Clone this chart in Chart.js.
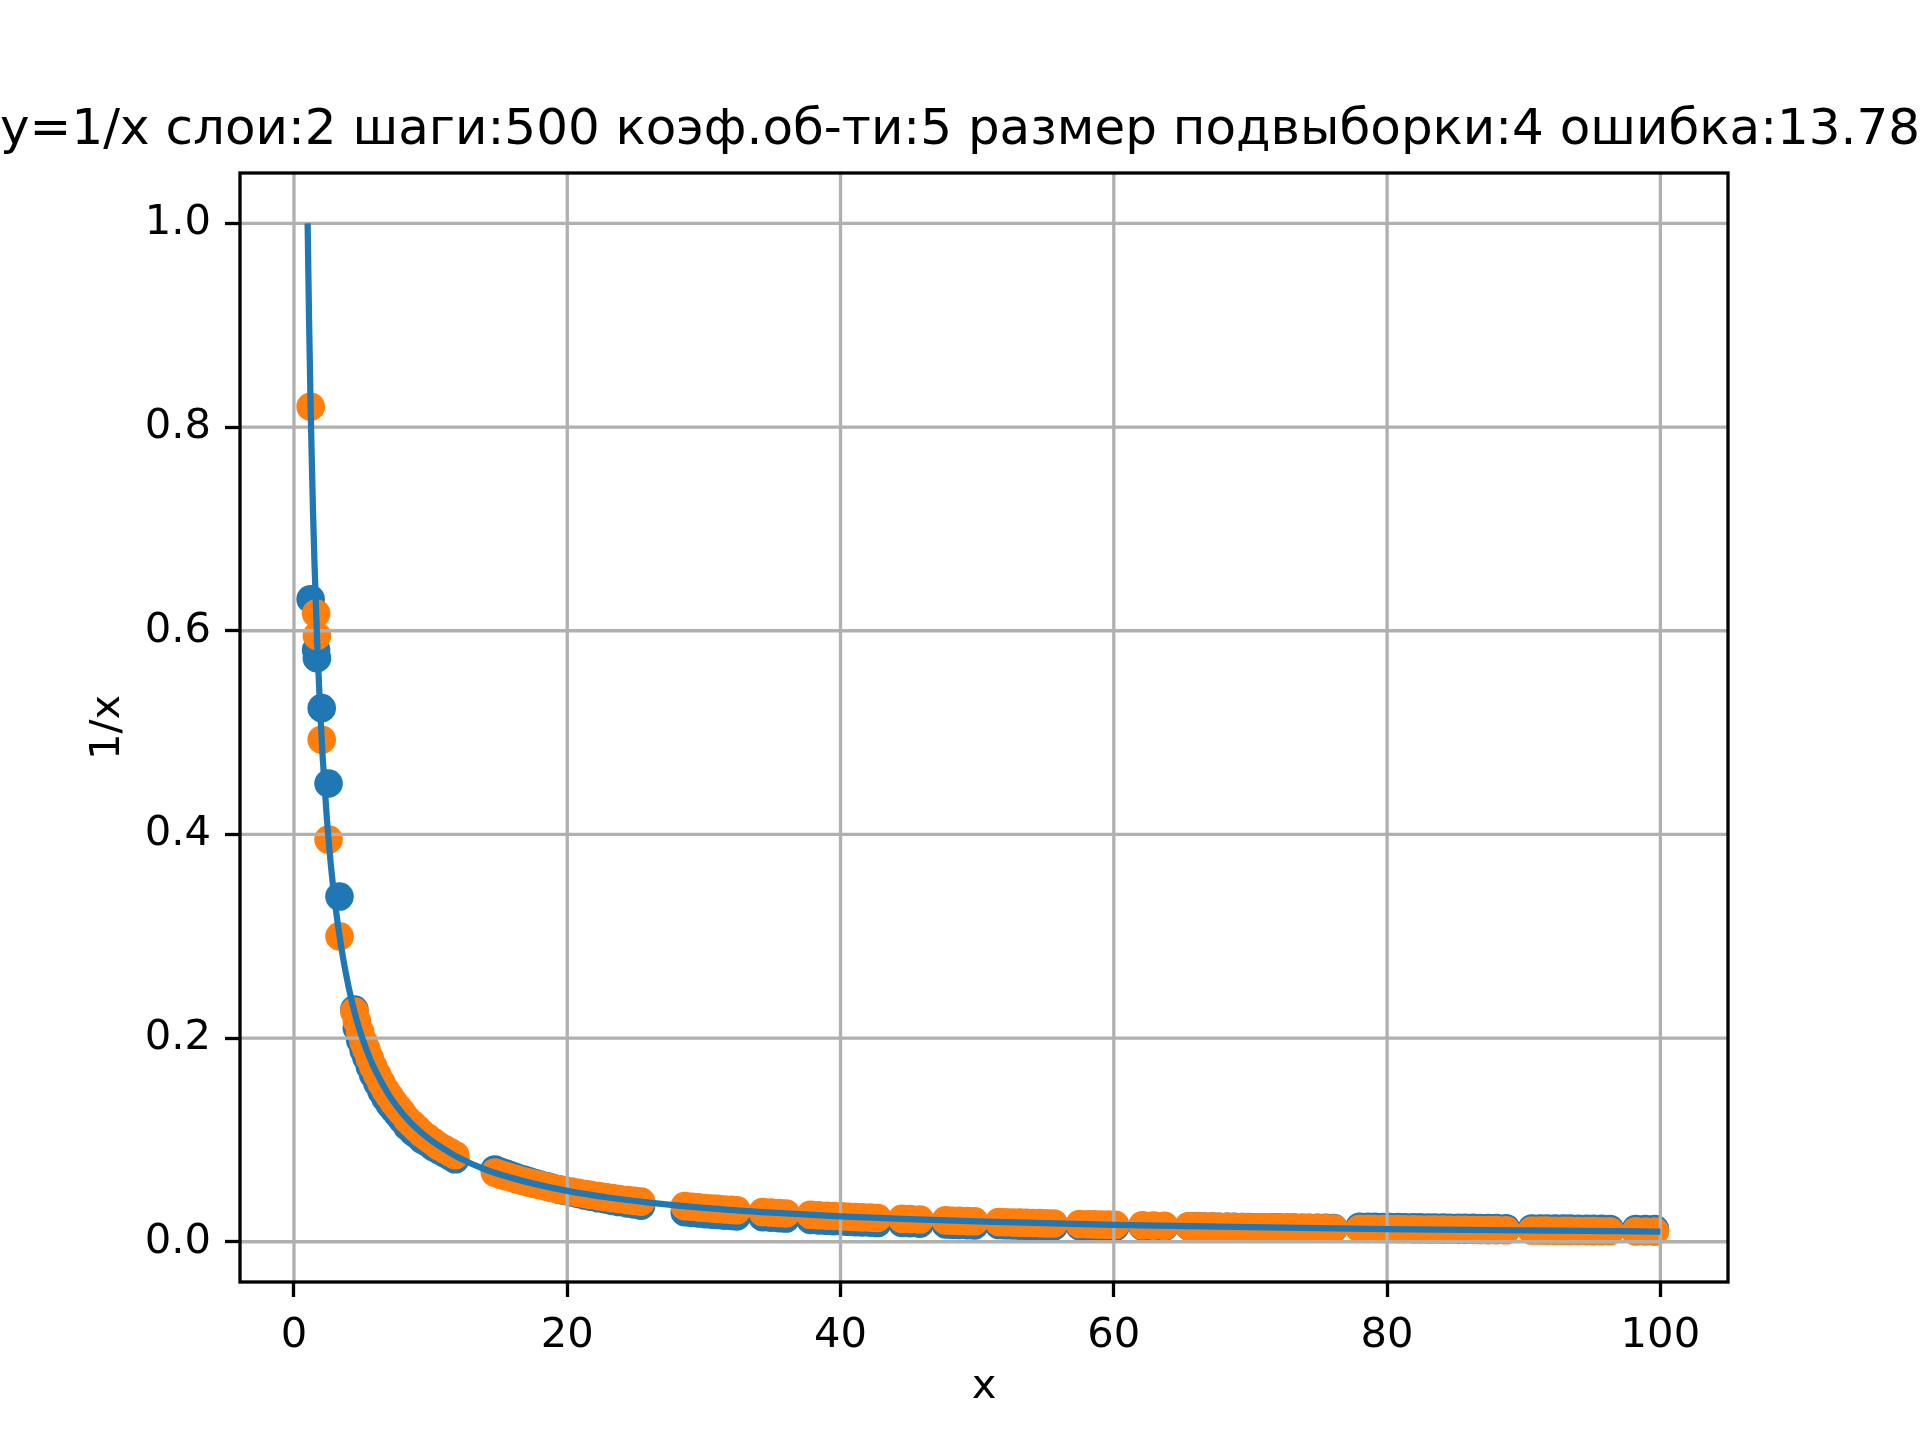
<!DOCTYPE html>
<html>
<head>
<meta charset="utf-8">
<script src="https://cdn.jsdelivr.net/npm/chart.js@4.4.1/dist/chart.umd.min.js"></script>
<style>
  html, body { margin: 0; padding: 0; background: #fff; }
</style>
</head>
<body>
<canvas id="chart" width="1920" height="1440"></canvas>
<script>
const chartTitle = 'y=1/x слои:2 шаги:500 коэф.об-ти:5 размер подвыборки:4 ошибка:13.78';
const xTickValues = [0, 20, 40, 60, 80, 100];
const yTickValues = [0.0, 0.2, 0.4, 0.6, 0.8, 1.0];

// curve y = 1/x
const curveX = [1, 1.1, 1.2, 1.3, 1.4, 1.5, 1.7, 1.9, 2.1, 2.4, 2.7, 3, 3.5, 4, 4.5, 5, 5.5, 6, 7, 8,
  9, 10, 11, 12, 14, 16, 18, 20, 23, 26, 30, 35, 40, 45, 50, 60, 70, 80, 90, 100];
const curveY = [1, 0.909, 0.833, 0.769, 0.714, 0.667, 0.588, 0.526, 0.476, 0.417, 0.370, 0.333, 0.286, 0.25, 0.222, 0.2, 0.182, 0.167, 0.143, 0.125,
  0.111, 0.1, 0.091, 0.083, 0.071, 0.0625, 0.0556, 0.05, 0.0435, 0.0385, 0.0333, 0.0286, 0.025, 0.0222, 0.02, 0.0167, 0.0143, 0.0125, 0.0111, 0.01];

// sample points (shared x), orange = true value, blue = prediction
const sampleX = [
  1.22, 1.62, 1.68, 2.03, 2.53, 3.33,
  4.42, 4.6, 4.85, 5.1, 5.3, 5.55, 5.8, 6.1, 6.4, 6.7, 7.0, 7.3, 7.6, 7.9, 8.3, 8.7, 9.0, 9.4, 9.8, 10.2, 10.6, 11.0, 11.4, 11.8,
  14.7, 15.1, 15.5, 15.9, 16.3, 16.8, 17.2, 17.6, 18.0, 18.5, 18.9, 19.4, 19.8, 20.3, 20.8, 21.3, 21.7, 22.3, 22.8, 23.3, 23.8, 24.4, 24.9, 25.4,
  28.6, 29.1, 29.6, 30.1, 30.6, 31.0, 31.5, 32.0, 32.4,
  34.3, 34.9, 35.5, 36.0,
  37.8, 38.4, 39.0, 39.5, 40.1, 40.6, 41.1, 41.6, 42.2, 42.7,
  44.5, 45.1, 45.8,
  47.7, 48.2, 48.7, 49.3, 49.8,
  51.6, 52.1, 52.6, 53.1, 53.6, 54.1, 54.6, 55.1, 55.6,
  57.5, 58.1, 58.6, 59.1, 59.6, 60.1,
  62.1, 62.9, 63.7,
  65.5, 66.1, 66.6, 67.2, 67.7, 68.3, 68.8, 69.4, 69.9, 70.5, 71.0, 71.6, 72.1, 72.7, 73.2, 73.8, 74.3, 74.9, 75.5, 76.1,
  78.0, 78.6, 79.1, 79.7, 80.2, 80.8, 81.3, 81.9, 82.4, 83.0, 83.5, 84.1, 84.6, 85.2, 85.7, 86.3, 86.8, 87.4, 88.0, 88.7,
  90.6, 91.2, 91.7, 92.3, 92.9, 93.4, 94.0, 94.6, 95.1, 95.7, 96.3,
  98.2, 98.9, 99.6
];
const trueY = [
  0.820, 0.617, 0.595, 0.493, 0.395, 0.300,
  0.226, 0.217, 0.206, 0.196, 0.189, 0.180, 0.172, 0.164, 0.156, 0.149, 0.143, 0.137, 0.132, 0.127, 0.120, 0.115, 0.111, 0.106, 0.102, 0.098, 0.094, 0.091, 0.088, 0.085,
  0.0680, 0.0660, 0.0645, 0.0629, 0.0613, 0.0595, 0.0581, 0.0568, 0.0556, 0.0541, 0.0529, 0.0515, 0.0505, 0.0493, 0.0481, 0.0469, 0.0461, 0.0448, 0.0439, 0.0429, 0.0420, 0.0410, 0.0402, 0.0394,
  0.0350, 0.0344, 0.0338, 0.0332, 0.0327, 0.0323, 0.0317, 0.0313, 0.0309,
  0.0292, 0.0287, 0.0282, 0.0278,
  0.0265, 0.0260, 0.0256, 0.0253, 0.0249, 0.0246, 0.0243, 0.0240, 0.0237, 0.0234,
  0.0225, 0.0222, 0.0218,
  0.0210, 0.0207, 0.0205, 0.0203, 0.0201,
  0.0194, 0.0192, 0.0190, 0.0188, 0.0187, 0.0185, 0.0183, 0.0181, 0.0180,
  0.0174, 0.0172, 0.0171, 0.0169, 0.0168, 0.0166,
  0.0161, 0.0159, 0.0157,
  0.0153, 0.0151, 0.0150, 0.0149, 0.0148, 0.0146, 0.0145, 0.0144, 0.0143, 0.0142, 0.0141, 0.0140, 0.0139, 0.0138, 0.0137, 0.0136, 0.0135, 0.0134, 0.0132, 0.0131,
  0.0128, 0.0127, 0.0126, 0.0125, 0.0125, 0.0124, 0.0123, 0.0122, 0.0121, 0.0120, 0.0120, 0.0119, 0.0118, 0.0117, 0.0117, 0.0116, 0.0115, 0.0114, 0.0114, 0.0113,
  0.0110, 0.0110, 0.0109, 0.0108, 0.0108, 0.0107, 0.0106, 0.0106, 0.0105, 0.0104, 0.0104,
  0.0102, 0.0101, 0.0100
];
const predY = [
  0.631, 0.581, 0.573, 0.524, 0.450, 0.339,
  0.228, 0.210, 0.198, 0.188, 0.181, 0.172, 0.164, 0.156, 0.148, 0.141, 0.135, 0.130, 0.125, 0.120, 0.113, 0.108, 0.105, 0.100, 0.097, 0.093, 0.090, 0.087, 0.084, 0.081,
  0.0710, 0.0687, 0.0669, 0.0650, 0.0631, 0.0610, 0.0593, 0.0577, 0.0562, 0.0544, 0.0529, 0.0512, 0.0499, 0.0484, 0.0469, 0.0454, 0.0443, 0.0427, 0.0415, 0.0402, 0.0390, 0.0377, 0.0366, 0.0354,
  0.0290, 0.0284, 0.0278, 0.0272, 0.0267, 0.0263, 0.0257, 0.0253, 0.0249,
  0.0242, 0.0237, 0.0232, 0.0228,
  0.0215, 0.0210, 0.0206, 0.0203, 0.0199, 0.0196, 0.0193, 0.0190, 0.0187, 0.0184,
  0.0185, 0.0182, 0.0178,
  0.0170, 0.0167, 0.0165, 0.0163, 0.0161,
  0.0164, 0.0162, 0.0160, 0.0158, 0.0157, 0.0155, 0.0153, 0.0151, 0.0150,
  0.0154, 0.0152, 0.0151, 0.0149, 0.0148, 0.0146,
  0.0151, 0.0149, 0.0147,
  0.0152, 0.0151, 0.0150, 0.0149, 0.0148, 0.0147, 0.0146, 0.0145, 0.0144, 0.0143, 0.0142, 0.0141, 0.0141, 0.0140, 0.0139, 0.0138, 0.0137, 0.0137, 0.0136, 0.0135,
  0.0148, 0.0147, 0.0146, 0.0145, 0.0145, 0.0144, 0.0143, 0.0142, 0.0141, 0.0140, 0.0140, 0.0139, 0.0138, 0.0137, 0.0137, 0.0136, 0.0135, 0.0134, 0.0134, 0.0133,
  0.0131, 0.0131, 0.0130, 0.0130, 0.0129, 0.0129, 0.0128, 0.0128, 0.0127, 0.0127, 0.0126,
  0.0125, 0.0125, 0.0124
];

const blue = '#1f77b4';
const orange = '#ff7f0e';
const tickFont = { size: 41.7 };

const toPoints = (xs, ys) => xs.map((x, i) => ({ x, y: ys[i] }));

// grid above the markers but under the curve, like matplotlib; frame on top
const gridAndFrame = {
  id: 'gridAndFrame',
  beforeDatasetDraw(chart, args) {
    if (args.index !== 0) return;
    const { ctx, chartArea: a, scales: { x, y } } = chart;
    ctx.save();
    ctx.strokeStyle = '#b0b0b0';
    ctx.lineWidth = 3.3;
    ctx.beginPath();
    xTickValues.forEach((v) => {
      const px = x.getPixelForValue(v);
      ctx.moveTo(px, a.top);
      ctx.lineTo(px, a.bottom);
    });
    yTickValues.forEach((v) => {
      const py = y.getPixelForValue(v);
      ctx.moveTo(a.left, py);
      ctx.lineTo(a.right, py);
    });
    ctx.stroke();
    ctx.restore();
  },
  afterDraw(chart) {
    const { ctx, chartArea: a } = chart;
    ctx.save();
    ctx.strokeStyle = '#000';
    ctx.lineWidth = 3.3;
    ctx.strokeRect(a.left, a.top, a.right - a.left, a.bottom - a.top);
    ctx.restore();
  },
};

Chart.defaults.font.family = '"DejaVu Sans", sans-serif';
Chart.defaults.color = '#000';

new Chart(document.getElementById('chart'), {
  type: 'scatter',
  data: {
    datasets: [
      {
        type: 'line',
        data: toPoints(curveX, curveY),
        borderColor: blue,
        borderWidth: 6.25,
        pointRadius: 0,
        fill: false,
        cubicInterpolationMode: 'monotone',
      },
      {
        data: toPoints(sampleX, trueY),
        backgroundColor: orange,
        borderWidth: 0,
        pointRadius: 14.3,
      },
      {
        data: toPoints(sampleX, predY),
        backgroundColor: blue,
        borderWidth: 0,
        pointRadius: 14.3,
      },
    ],
  },
  options: {
    responsive: false,
    animation: false,
    devicePixelRatio: 1,
    events: [],
    layout: { padding: 0 },
    plugins: {
      legend: { display: false },
      tooltip: { enabled: false },
      title: {
        display: true,
        text: chartTitle,
        color: '#000',
        font: { size: 50, weight: 'normal' },
        padding: { top: 101, bottom: 12 },
      },
    },
    scales: {
      x: {
        type: 'linear',
        min: -3.95,
        max: 104.95,
        afterBuildTicks: (scale) => { scale.ticks = xTickValues.map((v) => ({ value: v })); },
        afterFit: (scale) => { scale.height = 158; },
        grid: { display: true, drawOnChartArea: false, drawTicks: true, tickLength: 15, tickWidth: 3.3, tickColor: '#000' },
        border: { display: false },
        ticks: { font: tickFont, padding: 14, maxRotation: 0, autoSkip: false, callback: (v) => String(v) },
        title: { display: true, text: 'x', font: tickFont, padding: { top: 0, bottom: 28 } },
      },
      y: {
        type: 'linear',
        min: -0.0395,
        max: 1.0495,
        afterBuildTicks: (scale) => { scale.ticks = yTickValues.map((v) => ({ value: v })); },
        afterFit: (scale) => { scale.width = 240; },
        grid: { display: true, drawOnChartArea: false, drawTicks: true, tickLength: 15, tickWidth: 3.3, tickColor: '#000' },
        border: { display: false },
        ticks: { font: tickFont, padding: 14, autoSkip: false, callback: (v) => v.toFixed(1) },
        title: { display: true, text: '1/x', font: tickFont, padding: { top: 83, bottom: 0 } },
      },
      // empty right-hand box: keeps the figure margin while the title spans the full width
      spacer: {
        type: 'linear',
        position: 'right',
        afterFit: (scale) => { scale.width = 192; },
        grid: { display: false },
        border: { display: false },
        ticks: { display: false },
      },
    },
  },
  plugins: [gridAndFrame],
});
</script>
</body>
</html>
